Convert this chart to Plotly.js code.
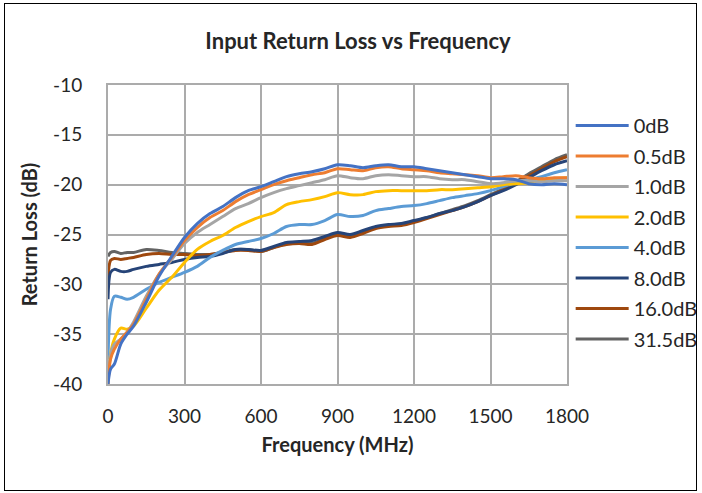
<!DOCTYPE html>
<html>
<head>
<meta charset="utf-8">
<script src="https://cdn.plot.ly/plotly-3.0.1.min.js"></script>
<style>
  html, body { margin: 0; padding: 0; background: #ffffff; }
  #wrap { position: relative; width: 702px; height: 493px; }
  #chart { width: 702px; height: 493px; }
  #frame {
    position: absolute; left: 4px; top: 3px; width: 693px; height: 488px;
    border: 1px solid #000000; pointer-events: none; box-sizing: border-box;
  }
</style>
</head>
<body>
<div id="wrap">
  <div id="chart"></div>
  <div id="frame"></div>
</div>
<script>
// Frequency sweep points (MHz)
const freqMHz = [0, 10, 25, 50, 75, 100, 150, 200, 250, 300, 350, 400, 450, 500, 550, 600,
  650, 700, 750, 800, 850, 900, 950, 1000, 1050, 1100, 1150, 1200, 1250, 1300, 1350,
  1400, 1450, 1500, 1550, 1600, 1650, 1700, 1750, 1800];

// Input return loss (dB) for each attenuation state
const rl_0dB = [-40, -38.5, -38, -36, -35, -34.2, -31.8, -29.2, -27.2, -25.3, -23.9, -22.9,
  -22.2, -21.3, -20.6, -20.2, -19.7, -19.2, -18.9, -18.7, -18.4, -18.0, -18.1, -18.3, -18.1,
  -18.0, -18.2, -18.2, -18.4, -18.6, -18.8, -19.0, -19.2, -19.4, -19.4, -19.5, -19.9, -20.0,
  -19.9, -20.0];
const rl_0p5dB = [-40, -37.5, -36.5, -35.5, -34.8, -34.0, -31.5, -29.0, -27.3, -25.6, -24.3,
  -23.3, -22.6, -21.7, -21.0, -20.5, -20.0, -19.6, -19.3, -19.0, -18.8, -18.4, -18.5, -18.6,
  -18.3, -18.2, -18.4, -18.5, -18.6, -18.8, -18.9, -19.0, -19.1, -19.3, -19.2, -19.1, -19.3,
  -19.4, -19.3, -19.3];
const rl_1p0dB = [-40, -37, -36, -35.5, -34.8, -33.8, -31.2, -29.0, -27.5, -25.9, -24.8, -24.0,
  -23.2, -22.4, -21.9, -21.3, -20.8, -20.4, -20.1, -19.8, -19.5, -19.1, -19.3, -19.4, -19.1,
  -19.0, -19.1, -19.2, -19.2, -19.4, -19.5, -19.5, -19.7, -19.9, -19.8, -19.6, -19.6, -19.7,
  -19.6, -19.6];
const rl_2p0dB = [-40, -37, -35.5, -34.4, -34.5, -34.2, -32.4, -30.6, -29.3, -27.8, -26.5,
  -25.7, -25.1, -24.3, -23.7, -23.2, -22.8, -22.0, -21.7, -21.5, -21.2, -20.8, -21.0, -21.0,
  -20.7, -20.6, -20.6, -20.6, -20.6, -20.5, -20.5, -20.4, -20.3, -20.2, -20.0, -19.9, -19.8,
  -19.6, -19.4, -19.3];
const rl_4p0dB = [-37.5, -32.5, -31.2, -31.3, -31.5, -31.3, -30.5, -29.8, -29.3, -28.8, -28.2,
  -27.3, -26.6, -26.0, -25.7, -25.4, -24.9, -24.2, -24.0, -24.0, -23.6, -23.0, -23.2, -23.1,
  -22.6, -22.4, -22.2, -22.1, -21.9, -21.6, -21.3, -21.1, -20.9, -20.6, -20.2, -19.8, -19.5,
  -19.2, -18.8, -18.5];
const rl_8p0dB = [-31.5, -28.8, -28.5, -28.7, -28.7, -28.5, -28.2, -28.0, -27.8, -27.5, -27.3,
  -27.2, -26.9, -26.5, -26.5, -26.6, -26.2, -25.8, -25.7, -25.6, -25.2, -24.8, -25.0, -24.6,
  -24.2, -24.0, -23.9, -23.6, -23.3, -22.9, -22.6, -22.2, -21.7, -21.1, -20.6, -20.0, -19.3,
  -18.6, -18.0, -17.6];
const rl_16p0dB = [-29.5, -27.6, -27.4, -27.5, -27.4, -27.3, -27.0, -26.9, -27.0, -27.0, -27.1,
  -27.0, -26.8, -26.6, -26.6, -26.7, -26.3, -26.0, -25.9, -26.0, -25.5, -25.1, -25.3, -24.9,
  -24.4, -24.2, -24.1, -23.8, -23.4, -23.0, -22.6, -22.2, -21.7, -21.1, -20.5, -19.8, -19.1,
  -18.4, -17.7, -17.2];
const rl_31p5dB = [-27.2, -26.8, -26.7, -26.9, -26.8, -26.8, -26.5, -26.6, -26.8, -26.9, -27.0,
  -27.0, -26.8, -26.5, -26.5, -26.7, -26.3, -25.9, -25.8, -25.9, -25.4, -25.0, -25.2, -24.8,
  -24.3, -24.1, -24.0, -23.7, -23.3, -22.9, -22.5, -22.1, -21.6, -21.0, -20.4, -19.7, -18.9,
  -18.2, -17.5, -17.0];

const stateNames = ['0dB', '0.5dB', '1.0dB', '2.0dB', '4.0dB', '8.0dB', '16.0dB', '31.5dB'];
const stateValues = [rl_0dB, rl_0p5dB, rl_1p0dB, rl_2p0dB, rl_4p0dB, rl_8p0dB, rl_16p0dB, rl_31p5dB];
const stateColors = ['#4472C4', '#ED7D31', '#A5A5A5', '#FFC000', '#5B9BD5', '#264478', '#9E480E', '#636363'];

const xTicks = [0, 300, 600, 900, 1200, 1500, 1800];
const yTicks = [-40, -35, -30, -25, -20, -15, -10];

const FONT = 'Lato, "Open Sans", "Liberation Sans", sans-serif';
const GRID = '#ABABAB';

// Draw the highest attenuation first so the low states sit on top,
// but keep the legend in ascending order.
const traces = stateNames.map((name, i) => ({
  type: 'scatter',
  mode: 'lines',
  name: name,
  x: freqMHz,
  y: stateValues[i],
  line: { color: stateColors[i], width: 3, shape: 'spline', smoothing: 0.8 },
  legendrank: i + 1,
  legendgroup: 'g' + i,
  hoverinfo: 'x+y+name'
})).reverse();

const layout = {
  width: 702,
  height: 493,
  paper_bgcolor: '#ffffff',
  plot_bgcolor: '#ffffff',
  font: { family: FONT, color: '#262626', size: 19 },
  margin: { l: 108, r: 135, t: 85, b: 109, pad: 0, autoexpand: false },
  title: {
    text: '<b>Input Return Loss vs Frequency</b>',
    font: { family: FONT, size: 22, color: '#262626' },
    x: 358 / 702, xref: 'container', xanchor: 'center',
    y: 1 - 41 / 493, yref: 'container', yanchor: 'middle'
  },
  xaxis: {
    range: [0, 1800],
    tickvals: xTicks,
    ticktext: xTicks.map(String),
    ticks: '',
    ticklabelstandoff: 14,
    showgrid: true, gridcolor: GRID, gridwidth: 2,
    showline: true, linecolor: GRID, linewidth: 2, mirror: true,
    zeroline: false,
    tickfont: { family: FONT, size: 19, color: '#262626' },
    title: { text: '<b>Frequency (MHz)</b>', font: { family: FONT, size: 20, color: '#262626' }, standoff: 12 }
  },
  yaxis: {
    range: [-40, -10],
    tickvals: yTicks,
    ticktext: yTicks.map(String),
    ticks: '',
    ticklabelstandoff: 20,
    showgrid: true, gridcolor: GRID, gridwidth: 2,
    showline: true, linecolor: GRID, linewidth: 2, mirror: true,
    zeroline: false,
    tickfont: { family: FONT, size: 19, color: '#262626' },
    title: { text: '<b>Return Loss (dB)</b>', font: { family: FONT, size: 20, color: '#262626' }, standoff: 10 }
  },
  showlegend: true,
  legend: {
    x: 1.008, xanchor: 'left',
    y: 0.93, yanchor: 'top',
    font: { family: FONT, size: 20, color: '#262626' },
    traceorder: 'grouped',
    tracegroupgap: 1.5,
    itemwidth: 53,
    bgcolor: 'rgba(0,0,0,0)',
    borderwidth: 0
  }
};

Plotly.newPlot('chart', traces, layout, { staticPlot: true, displayModeBar: false });
</script>
</body>
</html>
